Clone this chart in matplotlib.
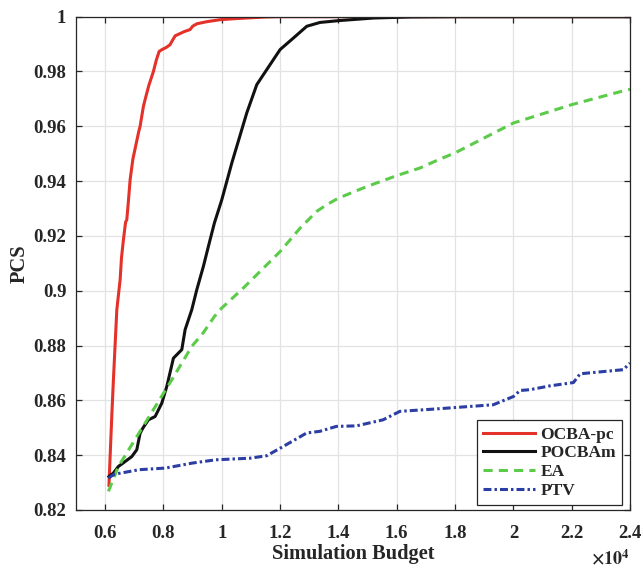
import matplotlib
matplotlib.use("Agg")
import matplotlib.pyplot as plt
from matplotlib.ticker import FuncFormatter, MultipleLocator

# simulation budget vs. probability of correct selection
ocba_x = [6130, 6170, 6230, 6283, 6340, 6400, 6513, 6560, 6626, 6700, 6742, 6800,
          6856, 6950, 7050, 7150, 7198, 7312, 7400, 7500, 7655, 7750, 7850, 7950,
          8100, 8227, 8300, 8400, 8500, 8700, 8913, 9000, 9143, 9500, 9942, 10500,
          11000, 11543, 12000, 24000]
ocba_y = [0.8290, 0.8395, 0.8550, 0.8675, 0.8800, 0.8931, 0.9040, 0.9120, 0.9186,
          0.9250, 0.9259, 0.9330, 0.9405, 0.9480, 0.9530, 0.9580, 0.9600, 0.9673,
          0.9710, 0.9750, 0.9800, 0.9840, 0.9873, 0.9880, 0.9888, 0.9898, 0.9912,
          0.9930, 0.9935, 0.9945, 0.9953, 0.9965, 0.9974, 0.9982, 0.9989, 0.9993,
          0.9996, 0.9999, 1.0000, 1.0000]

pocba_x = [6130, 6283, 6455, 6600, 6914, 7085, 7198, 7300, 7483, 7713, 7943, 8114,
           8341, 8628, 8742, 8971, 9143, 9369, 9541, 9746, 10000, 10343, 10686,
           10857, 11200, 11543, 12000, 12455, 12915, 13371, 14057, 15198, 16500,
           18000, 24000]
pocba_y = [0.8322, 0.8335, 0.8359, 0.8370, 0.8395, 0.8420, 0.8480, 0.8500, 0.8529,
           0.8541, 0.8590, 0.8651, 0.8754, 0.8785, 0.8858, 0.8931, 0.9004, 0.9089,
           0.9162, 0.9247, 0.9332, 0.9466, 0.9588, 0.9649, 0.9752, 0.9807, 0.9880,
           0.9922, 0.9965, 0.9979, 0.9986, 0.9995, 0.9999, 1.0000, 1.0000]

ea_x = [6112, 6455, 7370, 8285, 8971, 9360, 9746, 10000, 10740, 12000, 12690, 13260,
        13600, 14000, 14970, 16000, 16800, 17430, 18000, 20000, 22000, 23830, 24000]
ea_y = [0.8268, 0.8359, 0.8517, 0.8675, 0.8797, 0.8846, 0.8906, 0.8937, 0.9010,
        0.9143, 0.9229, 0.9290, 0.9314, 0.9338, 0.9380, 0.9420, 0.9448, 0.9478,
        0.9503, 0.9612, 0.9679, 0.9731, 0.9735]

ptv_x = [6112, 6300, 7160, 8070, 8980, 9780, 10970, 11540, 12110, 12910, 13360, 13930,
         14620, 15530, 16110, 17250, 19310, 20000, 20230, 20570, 21260, 22060, 22290,
         23770, 24000]
ptv_y = [0.8316, 0.8330, 0.8347, 0.8353, 0.8371, 0.8383, 0.8389, 0.8398, 0.8432,
         0.8481, 0.8487, 0.8505, 0.8507, 0.8529, 0.8560, 0.8568, 0.8584, 0.8614,
         0.8636, 0.8639, 0.8653, 0.8665, 0.8697, 0.8712, 0.8736]

dark = "#262626"
plt.rcParams["font.family"] = ["Liberation Serif", "DejaVu Serif"]
plt.rcParams["font.weight"] = "bold"
plt.rcParams["mathtext.fontset"] = "stix"

fig = plt.figure(figsize=(6.43, 5.69), dpi=100)
ax = fig.add_axes([0.1182, 0.1037, 0.8616, 0.867])

lw = 2.2
ax.plot(ocba_x, ocba_y, color="#e4312a", lw=lw, label="OCBA-pc")
ax.plot(pocba_x, pocba_y, color="#111111", lw=lw, label="POCBAm")
ax.plot(ea_x, ea_y, color="#5ccb4a", lw=lw, dashes=(3, 2), label="EA")
ax.plot(ptv_x, ptv_y, color="#2b3ea3", lw=lw, dashes=(2.6, 1, 0.8, 1), label="PTV")

ax.set_xlim(5000, 24000)
ax.set_ylim(0.82, 1.0)
ax.xaxis.set_major_locator(MultipleLocator(2000))
ax.yaxis.set_major_locator(MultipleLocator(0.02))
ax.xaxis.set_major_formatter(FuncFormatter(lambda v, p: "%g" % round(v / 1e4, 2)))
ax.yaxis.set_major_formatter(FuncFormatter(lambda v, p: "%g" % round(v, 2)))

ax.grid(True, color="#e3e3e3", lw=0.9)
ax.set_axisbelow(True)
ax.tick_params(direction="in", length=4, width=0.9, colors=dark, labelsize=13.5,
               top=True, right=True)
ax.tick_params(axis="x", pad=11)
ax.tick_params(axis="y", pad=7)
for s in ax.spines.values():
    s.set_color(dark)
    s.set_linewidth(0.9)

ax.set_xlabel("Simulation Budget", fontsize=14.7, fontweight="bold", color=dark, labelpad=1)
ax.set_ylabel("PCS", fontsize=14.7, fontweight="bold", color=dark, labelpad=3)
ax.text(1.0, -0.111, r"$\times10^{4}$", transform=ax.transAxes, ha="right", va="baseline",
        fontsize=13, color=dark)

leg = ax.legend(loc="lower right", bbox_to_anchor=(1 - 8 / 554, 5 / 493), borderaxespad=0,
                fancybox=False, framealpha=1, edgecolor=dark, fontsize=12.5,
                handlelength=3.0, labelspacing=0.15, borderpad=0.35, handletextpad=0.3)
leg.get_frame().set_linewidth(0.9)
for t in leg.get_texts():
    t.set_color(dark)

fig.savefig("out.png", dpi=100)
